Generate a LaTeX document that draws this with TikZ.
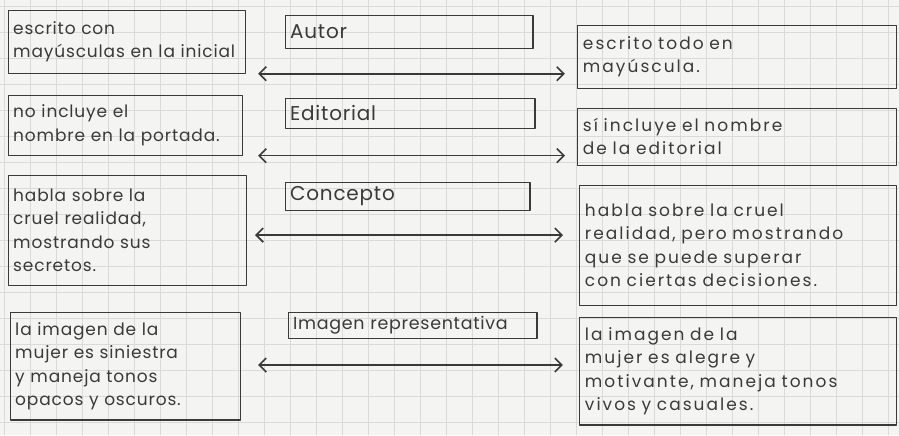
\documentclass[tikz,border=0pt]{standalone}
\usepackage{fontspec}
\setmainfont{Poppins}
\newfontfamily\letraizq[LetterSpace=5]{Poppins}
\newfontfamily\letrader[LetterSpace=12]{Poppins}
\newfontfamily\letratit[LetterSpace=4]{Poppins}
\newcommand\espacioancho{\spaceskip=9pt plus 2pt\relax}
\usetikzlibrary{arrows.meta}

\definecolor{papel}{HTML}{F4F4F2}
\definecolor{cuadro}{HTML}{DADADA}
\definecolor{lapiz}{HTML}{3A3A3A}

\tikzset{
  nota/.style={draw=lapiz, line width=1.1pt, align=left, inner xsep=5pt, inner ysep=3pt, text=lapiz},
  notaizq/.style={nota, font=\letraizq\fontsize{17}{23.5}\selectfont},
  notader/.style={nota, font=\letrader\fontsize{17}{23.5}\selectfont\espacioancho},
  titulo/.style={draw=lapiz, line width=1.1pt, align=left, inner xsep=5pt, inner ysep=1pt, text=lapiz,
    font=\letratit\fontsize{20}{22}\selectfont},
  flecha/.style={{Straight Barb[length=7pt,width=14pt]}-{Straight Barb[length=7pt,width=14pt]},
    draw=lapiz, line width=1.6pt}
}

\begin{document}
\begin{tikzpicture}[x=1pt, y=-1pt, line join=round, line cap=round]
  % hoja cuadriculada
  \fill[papel] (0,0) rectangle (899,435);
  \foreach \i in {0,...,34} {\draw[cuadro, line width=0.5pt] (4+26*\i,0) -- (4+26*\i,435);}
  \foreach \j in {0,...,16} {\draw[cuadro, line width=0.5pt] (0,6+26*\j) -- (899,6+26*\j);}
  \useasboundingbox (0,0) rectangle (899,435);

  % fila 1
  \node[notaizq, minimum width=237, minimum height=63, text width=227] (izq1) at (126.5,41.5)
    {escrito con\\mayúsculas en la inicial};
  \node[titulo, minimum width=248, minimum height=33, text width=238] (tit1) at (409,31.5) {Autor};
  \node[notader, minimum width=319, minimum height=63, text width=309] (der1) at (737.5,56.5)
    {escrito todo en\\mayúscula.};

  % fila 2
  \node[notaizq, minimum width=234, minimum height=60, text width=224] (izq2) at (125,125)
    {no incluye el\\nombre en la portada.};
  \node[titulo, minimum width=250, minimum height=30, text width=240] (tit2) at (410,113) {Editorial};
  \node[notader, minimum width=319, minimum height=57, text width=309] (der2) at (737.5,136.5)
    {sí incluye el nombre\\de la editorial};

  % fila 3
  \node[notaizq, minimum width=238, minimum height=110, text width=228] (izq3) at (127,230)
    {habla sobre la\\cruel realidad,\\mostrando sus\\secretos.};
  \node[titulo, minimum width=245, minimum height=28, text width=235] (tit3) at (407.5,196) {Concepto};
  \node[notader, minimum width=317, minimum height=120, text width=307] (der3) at (738.5,245)
    {habla sobre la cruel\\realidad, pero mostrando\\que se puede superar\\con ciertas decisiones.};

  % fila 4
  \node[notaizq, minimum width=230, minimum height=108, text width=220] (izq4) at (125,366)
    {la imagen de la\\mujer es siniestra\\y maneja tonos\\opacos y oscuros.};
  \node[titulo, minimum width=249, minimum height=26, text width=239,
    font=\letratit\fontsize{17.5}{20}\selectfont] (tit4) at (412.5,325)
    {Imagen representativa};
  \node[notader, minimum width=317, minimum height=108, text width=307] (der4) at (738.5,371)
    {la imagen de la\\mujer es alegre y\\motivante, maneja tonos\\vivos y casuales.};

  % extremos de las flechas
  \coordinate (f1a) at (258,73.5);  \coordinate (f1b) at (565,73.5);
  \coordinate (f2a) at (258,155.5); \coordinate (f2b) at (565,155.5);
  \coordinate (f3a) at (255,235); \coordinate (f3b) at (563,235);
  \coordinate (f4a) at (258,365); \coordinate (f4b) at (563,365);

  % flechas dobles
  \draw[flecha] (f1a) -- (f1b);
  \draw[flecha] (f2a) -- (f2b);
  \draw[flecha] (f3a) -- (f3b);
  \draw[flecha] (f4a) -- (f4b);
\end{tikzpicture}
\end{document}
